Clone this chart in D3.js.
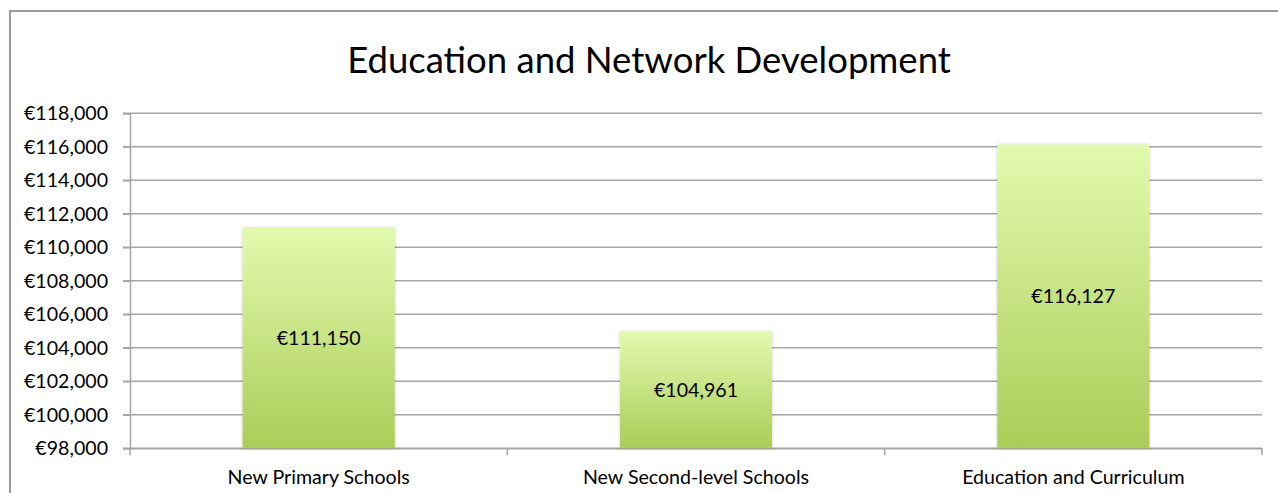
<!DOCTYPE html>
<html>
<head>
<meta charset="utf-8">
<script src="https://cdn.jsdelivr.net/npm/d3@7"></script>
<style>
  body { margin: 0; background: #fff; }
  text { font-family: Lato, "Open Sans", sans-serif; fill: #000; }
</style>
</head>
<body>
<div id="chart-area"></div>
<script>
// data
const categories = ["New Primary Schools", "New Second-level Schools", "Education and Curriculum"]
const values = [111150, 104961, 116127]
const yTicks = [98000, 100000, 102000, 104000, 106000, 108000, 110000, 112000, 114000, 116000, 118000]

const W = 1278, H = 493
const PLOT = { LEFT: 130, RIGHT: 1262, TOP: 113.3, BOTTOM: 448.3 }
const LABEL_SIZE = "19.6px"

const svg = d3.select("#chart-area").append("svg")
	.attr("width", W)
	.attr("height", H)

// bar gradient
const grad = svg.append("defs").append("linearGradient")
	.attr("id", "barGrad")
	.attr("x1", 0).attr("y1", 0).attr("x2", 0).attr("y2", 1)
grad.append("stop").attr("offset", "0%").attr("stop-color", "#e2faae")
grad.append("stop").attr("offset", "100%").attr("stop-color", "#abcc58")

const shadow = svg.select("defs").append("filter")
	.attr("id", "shadow")
	.attr("x", "-10%").attr("y", "-10%").attr("width", "120%").attr("height", "120%")
shadow.append("feDropShadow")
	.attr("dx", 0).attr("dy", 0).attr("stdDeviation", 1.5)
	.attr("flood-color", "#000").attr("flood-opacity", 0.25)

// outer frame
svg.append("rect")
	.attr("x", 10).attr("y", 11)
	.attr("width", W + 20).attr("height", H + 20)
	.attr("fill", "none")
	.attr("stroke", "#9c9c9c")
	.attr("stroke-width", 2)

// title
svg.append("text")
	.attr("x", 649)
	.attr("y", 73)
	.attr("text-anchor", "middle")
	.style("font-size", "36.5px")
	.text("Education and Network Development")

// scales
const x = d3.scaleBand().domain(categories).range([PLOT.LEFT, PLOT.RIGHT])
const y = d3.scaleLinear().domain([98000, 118000]).range([PLOT.BOTTOM, PLOT.TOP])

const euro = d => "€" + d3.format(",")(d)

// gridlines
svg.append("g")
	.selectAll("line")
	.data(yTicks)
	.join("line")
	.attr("x1", PLOT.LEFT - 7)
	.attr("x2", PLOT.RIGHT)
	.attr("y1", d => y(d))
	.attr("y2", d => y(d))
	.attr("stroke", "#a6a6a6")
	.attr("stroke-width", 1.5)

// y axis
const yAxis = svg.append("g")
	.attr("transform", `translate(${PLOT.LEFT}, 0)`)
	.call(d3.axisLeft(y).tickValues(yTicks).tickFormat(euro).tickSize(7).tickPadding(15))
yAxis.select(".domain").attr("stroke", "#a6a6a6").attr("stroke-width", 1.5)
yAxis.selectAll(".tick line").attr("stroke", "#a6a6a6").attr("stroke-width", 1.5)
yAxis.selectAll(".tick text")
	.style("font-size", LABEL_SIZE)
	.style("font-family", "Lato, sans-serif")
	.attr("fill", "#000")

// x axis
const xAxis = svg.append("g")
	.attr("transform", `translate(0, ${PLOT.BOTTOM})`)
	.call(d3.axisBottom(x).tickSize(0).tickPadding(22))
xAxis.select(".domain").attr("stroke", "#a6a6a6").attr("stroke-width", 1.5)
xAxis.selectAll(".tick text")
	.style("font-size", LABEL_SIZE)
	.style("font-family", "Lato, sans-serif")
	.attr("fill", "#000")
// category separators
xAxis.append("g")
	.selectAll("line")
	.data(categories.map(c => x(c)).concat([PLOT.RIGHT]))
	.join("line")
	.attr("x1", d => d).attr("x2", d => d)
	.attr("y1", 0).attr("y2", 7)
	.attr("stroke", "#a6a6a6")
	.attr("stroke-width", 1.5)

// bars
const barW = x.bandwidth() * 0.403
const bars = svg.append("g")
	.selectAll("g")
	.data(categories.map((c, i) => ({ cat: c, value: values[i] })))
	.join("g")

bars.append("rect")
	.attr("x", d => x(d.cat) + (x.bandwidth() - barW) / 2)
	.attr("y", d => y(d.value))
	.attr("width", barW)
	.attr("height", d => PLOT.BOTTOM - y(d.value))
	.attr("fill", "url(#barGrad)")
	.attr("filter", "url(#shadow)")

// value labels
bars.append("text")
	.attr("x", d => x(d.cat) + x.bandwidth() / 2)
	.attr("y", d => (y(d.value) + PLOT.BOTTOM) / 2)
	.attr("dy", "0.35em")
	.attr("text-anchor", "middle")
	.style("font-size", LABEL_SIZE)
	.text(d => euro(d.value))
</script>
</body>
</html>
